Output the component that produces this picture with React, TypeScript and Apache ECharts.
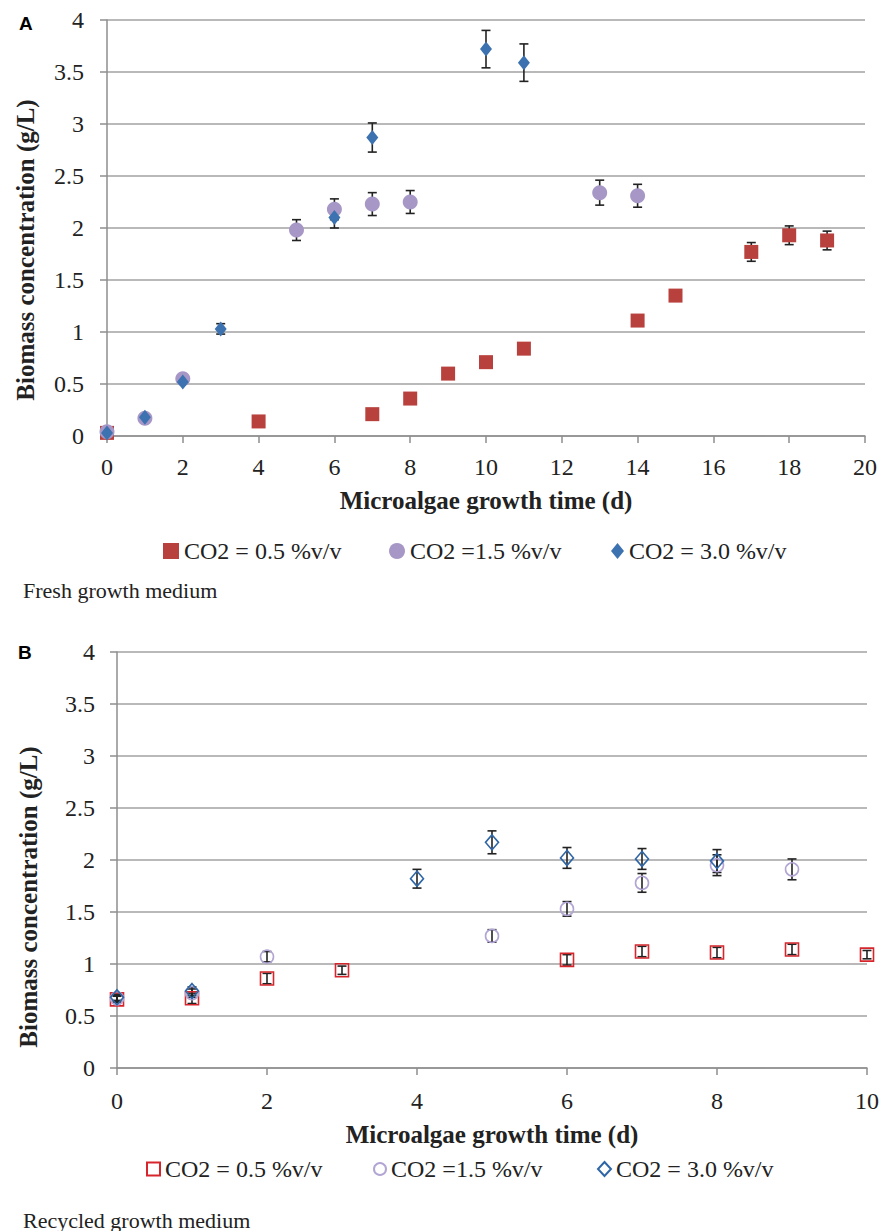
import React, { useEffect, useRef } from "react";
import * as echarts from "echarts";

const FONT = "Liberation Serif, Times New Roman, serif";
const SANS = "Liberation Sans, Arial, sans-serif";

// Panel A – fresh growth medium
const daysA05 = [0, 4, 7, 8, 9, 10, 11, 14, 15, 17, 18, 19];
const valsA05 = [0.03, 0.14, 0.21, 0.36, 0.6, 0.71, 0.84, 1.11, 1.35, 1.77, 1.93, 1.88];
const errsA05 = [0, 0, 0, 0, 0, 0, 0, 0, 0.04, 0.09, 0.09, 0.09];

const daysA15 = [0, 1, 2, 5, 6, 7, 8, 13, 14];
const valsA15 = [0.04, 0.17, 0.55, 1.98, 2.18, 2.23, 2.25, 2.34, 2.31];
const errsA15 = [0, 0, 0, 0.1, 0.1, 0.11, 0.11, 0.12, 0.11];

const daysA30 = [0, 1, 2, 3, 6, 7, 10, 11];
const valsA30 = [0.03, 0.18, 0.52, 1.03, 2.1, 2.87, 3.72, 3.59];
const errsA30 = [0, 0, 0, 0.05, 0.1, 0.14, 0.18, 0.18];

// Panel B – recycled growth medium
const daysB05 = [0, 1, 2, 3, 6, 7, 8, 9, 10];
const valsB05 = [0.66, 0.67, 0.86, 0.94, 1.04, 1.12, 1.11, 1.14, 1.09];
const errsB05 = [0.03, 0.05, 0.05, 0.04, 0.05, 0.05, 0.05, 0.05, 0.04];

const daysB15 = [0, 1, 2, 5, 6, 7, 8, 9];
const valsB15 = [0.67, 0.72, 1.07, 1.27, 1.53, 1.78, 1.95, 1.91];
const errsB15 = [0.03, 0.04, 0.05, 0.06, 0.07, 0.09, 0.1, 0.1];

const daysB30 = [0, 1, 4, 5, 6, 7, 8];
const valsB30 = [0.68, 0.74, 1.82, 2.17, 2.02, 2.01, 1.99];
const errsB30 = [0.03, 0.04, 0.09, 0.11, 0.1, 0.1, 0.11];

const seriesNames = ["CO2 = 0.5 %v/v", "CO2 =1.5 %v/v", "CO2 = 3.0 %v/v"];
const yTicks = ["0", "0.5", "1", "1.5", "2", "2.5", "3", "3.5", "4"];
const xTitle = "Microalgae growth time (d)";
const yTitle = "Biomass concentration (g/L)";

const pts = (d: number[], v: number[]) => d.map((x, i) => [x, v[i]]);
const errs = (d: number[], v: number[], e: number[]) =>
  d.map((x, i) => [x, v[i] - e[i], v[i] + e[i], e[i]]).filter((r) => r[3] > 0);

const errorSeries = (data: number[][]) => ({
  type: "custom",
  z: 1,
  silent: true,
  encode: { x: 0, y: [1, 2] },
  data,
  renderItem: (params: any, api: any) => {
    const x = api.value(0);
    const top = api.coord([x, api.value(2)]);
    const bot = api.coord([x, api.value(1)]);
    const cap = 4.5;
    const style = { stroke: "#222", lineWidth: 1.6 };
    return {
      type: "group",
      children: [
        { type: "line", shape: { x1: top[0], y1: top[1], x2: bot[0], y2: bot[1] }, style },
        { type: "line", shape: { x1: top[0] - cap, y1: top[1], x2: top[0] + cap, y2: top[1] }, style },
        { type: "line", shape: { x1: bot[0] - cap, y1: bot[1], x2: bot[0] + cap, y2: bot[1] }, style },
      ],
    };
  },
});

const axisGray = "#8e8e8e";

const makeAxes = (xmax: number, xMargin: number, yMargin: number, nameGap: number) => ({
  xAxis: {
    type: "value",
    min: 0,
    max: xmax,
    interval: 2,
    name: xTitle,
    nameLocation: "middle",
    nameGap,
    nameTextStyle: { fontFamily: FONT, fontSize: 25, fontWeight: "bold", color: "#222" },
    axisLine: { show: true, lineStyle: { color: axisGray, width: 1.5 } },
    axisTick: { show: true, length: 7, lineStyle: { color: axisGray, width: 1.5 } },
    axisLabel: { fontFamily: FONT, fontSize: 24, color: "#222", margin: xMargin },
    splitLine: { show: false },
  },
  yAxis: {
    type: "value",
    min: 0,
    max: 4,
    interval: 0.5,
    axisLine: { show: true, lineStyle: { color: axisGray, width: 1.5 } },
    axisTick: { show: true, length: 7, lineStyle: { color: axisGray, width: 1.5 } },
    axisLabel: {
      fontFamily: FONT,
      fontSize: 24,
      color: "#222",
      margin: yMargin,
      formatter: (v: number) => yTicks[Math.round(v * 2)] ?? String(v),
    },
    splitLine: { show: true, lineStyle: { color: "#a2a2a2", width: 1.5 } },
  },
});

const legendItem = (name: string, left: number, top: number, w: number, h: number) => ({
  data: [name],
  left,
  top,
  itemWidth: w,
  itemHeight: h,
  itemGap: 0,
  padding: 0,
  textStyle: { fontFamily: FONT, fontSize: 24, color: "#222", padding: [0, 0, 0, 0] },
  selectedMode: false,
});

const optionA = {
  animation: false,
  backgroundColor: "#fff",
  grid: { left: 107, top: 20, width: 758, height: 416 },
  ...makeAxes(20, 19, 23, 52),
  legend: [
    legendItem(seriesNames[0], 163, 539, 16, 16),
    legendItem(seriesNames[1], 389, 539, 16, 16),
    legendItem(seriesNames[2], 611, 539, 13, 16),
  ],
  graphic: [
    {
      type: "text",
      left: 19,
      top: 14,
      style: { text: "A", fontFamily: SANS, fontSize: 19, fontWeight: "bold", fill: "#000" },
    },
    {
      type: "text",
      x: 25,
      y: 250,
      rotation: Math.PI / 2,
      style: {
        text: yTitle,
        fontFamily: FONT,
        fontSize: 25,
        fontWeight: "bold",
        fill: "#222",
        align: "center",
        verticalAlign: "middle",
      },
    },
    {
      type: "text",
      x: 23,
      y: 590,
      style: {
        text: "Fresh growth medium",
        fontFamily: FONT,
        fontSize: 22,
        fill: "#222",
        verticalAlign: "middle",
      },
    },
  ],
  series: [
    errorSeries(errs(daysA05, valsA05, errsA05)),
    errorSeries(errs(daysA15, valsA15, errsA15)),
    errorSeries(errs(daysA30, valsA30, errsA30)),
    {
      type: "scatter",
      name: seriesNames[0],
      z: 2,
      symbol: "rect",
      symbolSize: 14,
      itemStyle: { color: "#b8413e", opacity: 1 },
      data: pts(daysA05, valsA05),
    },
    {
      type: "scatter",
      name: seriesNames[1],
      z: 3,
      symbol: "circle",
      symbolSize: 15,
      itemStyle: { color: "#a797c6", opacity: 1 },
      data: pts(daysA15, valsA15),
    },
    {
      type: "scatter",
      name: seriesNames[2],
      z: 4,
      symbol: "diamond",
      symbolSize: [12, 15],
      itemStyle: { color: "#3d72b0", opacity: 1 },
      data: pts(daysA30, valsA30),
    },
  ],
};

const optionB = {
  animation: false,
  backgroundColor: "#fff",
  grid: { left: 117, top: 37, width: 750, height: 416 },
  ...makeAxes(10, 21, 22, 54),
  legend: [
    legendItem(seriesNames[0], 146, 542, 13, 13),
    legendItem(seriesNames[1], 373, 542, 12, 12),
    legendItem(seriesNames[2], 597, 542, 13, 14),
  ],
  graphic: [
    {
      type: "text",
      left: 18,
      top: 28,
      style: { text: "B", fontFamily: SANS, fontSize: 19, fontWeight: "bold", fill: "#000" },
    },
    {
      type: "text",
      x: 28,
      y: 282,
      rotation: Math.PI / 2,
      style: {
        text: yTitle,
        fontFamily: FONT,
        fontSize: 25,
        fontWeight: "bold",
        fill: "#222",
        align: "center",
        verticalAlign: "middle",
      },
    },
    {
      type: "text",
      x: 23,
      y: 605,
      style: {
        text: "Recycled growth medium",
        fontFamily: FONT,
        fontSize: 22,
        fill: "#222",
        verticalAlign: "middle",
      },
    },
  ],
  series: [
    errorSeries(errs(daysB05, valsB05, errsB05)),
    errorSeries(errs(daysB15, valsB15, errsB15)),
    errorSeries(errs(daysB30, valsB30, errsB30)),
    {
      type: "scatter",
      name: seriesNames[0],
      z: 2,
      symbol: "rect",
      symbolSize: 13,
      itemStyle: { color: "rgba(255,255,255,0)", borderColor: "#d6262c", borderWidth: 1.6, opacity: 1 },
      data: pts(daysB05, valsB05),
    },
    {
      type: "scatter",
      name: seriesNames[1],
      z: 3,
      symbol: "circle",
      symbolSize: 13,
      itemStyle: { color: "rgba(255,255,255,0)", borderColor: "#b2a5d4", borderWidth: 1.6, opacity: 1 },
      data: pts(daysB15, valsB15),
    },
    {
      type: "scatter",
      name: seriesNames[2],
      z: 4,
      symbol: "diamond",
      symbolSize: [13, 15],
      itemStyle: { color: "rgba(255,255,255,0)", borderColor: "#2f66a6", borderWidth: 1.6, opacity: 1 },
      data: pts(daysB30, valsB30),
    },
  ],
};

export default function App() {
  const refA = useRef<HTMLDivElement>(null);
  const refB = useRef<HTMLDivElement>(null);
  useEffect(() => {
    document.body.style.margin = "0";
    const a = echarts.init(refA.current!, null, { renderer: "svg" });
    const b = echarts.init(refB.current!, null, { renderer: "svg" });
    a.setOption(optionA as any);
    b.setOption(optionB as any);
    return () => {
      a.dispose();
      b.dispose();
    };
  }, []);
  return (
    <div style={{ position: "relative", width: 882, height: 1231, background: "#fff" }}>
      <div ref={refA} style={{ position: "absolute", left: 0, top: 0, width: 882, height: 615 }} />
      <div ref={refB} style={{ position: "absolute", left: 0, top: 615, width: 882, height: 616 }} />
    </div>
  );
}
